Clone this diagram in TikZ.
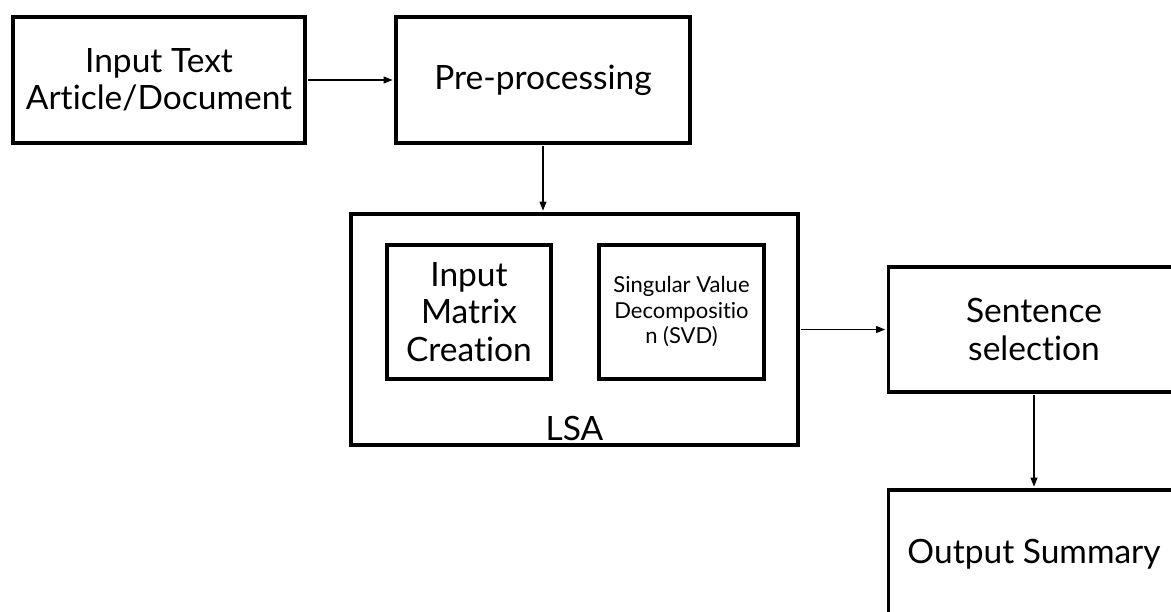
\documentclass[tikz,border=0pt]{standalone}
\usepackage{fontspec}
\setmainfont{Lato}[Ligatures=NoCommon]
\usetikzlibrary{arrows.meta}
\begin{document}
\begin{tikzpicture}[x=1pt,y=-1pt,
  box/.style={draw, line width=3.6pt, rectangle, align=center, inner sep=0pt,
              font=\fontsize{33.5}{37.5}\selectfont},
  smallbox/.style={box, font=\fontsize{22}{25.5}\selectfont},
  conn/.style={-{Triangle[length=9pt,width=7pt]}, line width=1.1pt, shorten >=1.6pt, shorten <=1.6pt}]
\useasboundingbox (0,0) rectangle (1171,612);
\node[box, minimum width=292pt, minimum height=126pt] (inp) at (159,80) {Input Text\\Article/Document};
\node[box, minimum width=294pt, minimum height=126pt] (pre) at (543,80) {Pre-processing};
\node[box, minimum width=447pt, minimum height=231pt] (lsa) at (574.5,329.5) {};
\node[box, minimum width=164pt, minimum height=134pt] (imc) at (469,312) {Input\\Matrix\\Creation};
\node[smallbox, minimum width=165pt, minimum height=134pt] (svd) at (681.5,312) {Singular Value\\Decompositio\\n (SVD)};
\node[font=\fontsize{33.5}{37.5}\selectfont, inner sep=0pt] (lsalabel) at (574.5,428) {LSA};
\node[box, minimum width=291pt, minimum height=125pt] (sel) at (1034,329.5) {Sentence\\selection};
\node[box, minimum width=291pt, minimum height=128pt] (out) at (1034,554) {Output Summary};
\draw[conn] (inp.east) -- (pre.west);
\draw[conn] (pre.south) -- (pre.south |- lsa.north);
\draw[conn] (lsa.east) -- (sel.west);
\draw[conn] (sel.south) -- (out.north);
\end{tikzpicture}
\end{document}
